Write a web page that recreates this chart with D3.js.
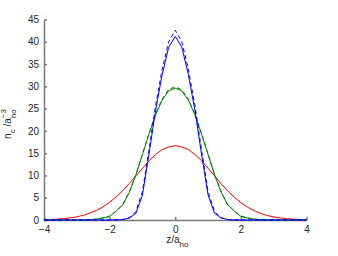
<!DOCTYPE html>
<html>
<head>
<meta charset="utf-8">
<script src="https://cdn.jsdelivr.net/npm/d3@7"></script>
<style>
  body { margin: 0; background: #fff; }
  text { font-family: "Liberation Sans", Arial, sans-serif; fill: #262626; }
</style>
</head>
<body>
<svg id="chart"></svg>
<script>
// z grid (z/a_ho)
const zValues = [-4.0,-3.8,-3.6,-3.4,-3.2,-3.0,-2.8,-2.6,-2.4,-2.2,-2.0,-1.8,-1.6,-1.4,-1.2,-1.0,-0.8,-0.6,-0.4,-0.2,
  0.0,0.2,0.4,0.6,0.8,1.0,1.2,1.4,1.6,1.8,2.0,2.2,2.4,2.6,2.8,3.0,3.2,3.4,3.6,3.8,4.0];

// density curves
const redSolid = [0.07,0.11,0.19,0.31,0.47,0.72,1.05,1.55,2.15,2.95,4.0,5.2,6.6,8.2,9.9,11.6,13.3,14.7,15.8,16.4,
  16.7,16.4,15.8,14.7,13.3,11.6,9.9,8.1,6.5,5.1,3.9,2.9,2.1,1.5,1.0,0.7,0.45,0.3,0.18,0.1,0.06];
const greenSolid = [0,0,0,0,0,0.01,0.03,0.08,0.2,0.45,0.8,2.0,3.4,6.2,10.1,14.7,19.3,23.6,26.9,29.0,
  29.6,29.0,26.9,23.6,19.3,14.7,10.1,6.2,3.4,2.0,0.8,0.45,0.2,0.08,0.03,0.01,0,0,0,0,0];
const greenDashed = [0,0,0,0,0,0.01,0.03,0.09,0.2,0.46,0.9,2.0,3.5,6.3,10.2,14.8,19.4,23.8,27.1,29.3,
  29.9,29.2,27.1,23.8,19.4,14.8,10.2,6.3,3.5,2.0,0.9,0.46,0.2,0.09,0.03,0.01,0,0,0,0,0];
const blueSolid = [0,0,0,0,0,0,0,0,0,0,0,0.02,0.1,0.45,1.5,5.6,14.8,24.6,32.6,38.8,
  41.2,38.8,32.6,24.6,14.8,5.6,1.5,0.45,0.1,0.02,0,0,0,0,0,0,0,0,0,0,0];
const blueDashed = [0,0,0,0,0,0,0,0,0,0,0,0.03,0.12,0.5,1.9,6.4,15.8,25.6,33.8,40.0,
  42.6,40.0,33.8,25.6,15.8,6.4,1.9,0.5,0.12,0.03,0,0,0,0,0,0,0,0,0,0,0];

const xTicks = [-4, -2, 0, 2, 4];
const yTicks = [0, 5, 10, 15, 20, 25, 30, 35, 40, 45];

class DensityChart {
  constructor(config) {
    this.config = {
      parent: config.parent,
      width: config.width || 338,
      height: config.height || 256,
      margin: config.margin || { top: 19.5, right: 31.5, bottom: 36, left: 44 }
    };
    this.init();
  }

  init() {
    let self = this;

    self.svg = d3.select(self.config.parent)
      .attr('width', self.config.width)
      .attr('height', self.config.height);

    self.chart = self.svg.append('g')
      .attr('transform', `translate(${self.config.margin.left}, ${self.config.margin.top})`);

    self.inner_width = self.config.width - self.config.margin.left - self.config.margin.right;
    self.inner_height = self.config.height - self.config.margin.top - self.config.margin.bottom;

    self.xscale = d3.scaleLinear().domain([-4, 4]).range([0, self.inner_width]);
    self.yscale = d3.scaleLinear().domain([0, 45]).range([self.inner_height, 0]);

    // matlab style: ticks point inward
    self.xaxis = d3.axisBottom(self.xscale).tickValues(xTicks).tickSize(-3).tickSizeOuter(0).tickPadding(6)
      .tickFormat(d => d < 0 ? '\u2212' + Math.abs(d) : d);
    self.yaxis = d3.axisLeft(self.yscale).tickValues(yTicks).tickSize(-3).tickSizeOuter(0).tickPadding(5);

    self.render();
  }

  render() {
    let self = this;

    const series = [
      { v: redSolid, color: '#ff0000', dash: null },
      { v: greenDashed, color: '#008000', dash: '4,3' },
      { v: greenSolid, color: '#008000', dash: null },
      { v: blueDashed, color: '#0000ff', dash: '4,3' },
      { v: blueSolid, color: '#0000ff', dash: null }
    ];

    self.line = d3.line()
      .x((d, i) => self.xscale(zValues[i]))
      .y(d => self.yscale(d));

    self.xaxis_group = self.chart.append('g')
      .attr('transform', `translate(0, ${self.inner_height})`)
      .call(self.xaxis);
    self.yaxis_group = self.chart.append('g')
      .call(self.yaxis);

    self.chart.selectAll('.domain, .tick line')
      .attr('stroke', '#7a7a7a')
      .attr('stroke-width', 1.5);
    self.chart.selectAll('.tick text')
      .style('font-size', '10px')
      .attr('fill', '#262626');

    self.chart.selectAll('.curve')
      .data(series)
      .join('path')
      .attr('class', 'curve')
      .attr('d', d => self.line(d.v))
      .attr('fill', 'none')
      .attr('stroke', d => d.color)
      .attr('stroke-width', 1)
      .attr('stroke-dasharray', d => d.dash);

    // x label  z/a_ho
    const xl = self.svg.append('text')
      .attr('x', self.config.margin.left + self.xscale(0) + 2)
      .attr('y', 243)
      .attr('text-anchor', 'middle')
      .style('font-size', '10px');
    xl.append('tspan').text('z/a');
    xl.append('tspan').attr('dy', 4).style('font-size', '8px').text('ho');

    // y label  n_c /a_ho^-3
    const yl = self.svg.append('text')
      .attr('transform', `translate(11, 124) rotate(-90)`)
      .attr('text-anchor', 'middle')
      .style('font-size', '10px');
    yl.append('tspan').text('n');
    yl.append('tspan').attr('dy', 4).style('font-size', '8px').text('c');
    yl.append('tspan').attr('dy', -4).text(' /a');
    yl.append('tspan').attr('dy', -5).style('font-size', '8px').text('\u22123');
    yl.append('tspan').attr('dx', -9).attr('dy', 10).style('font-size', '8px').text('ho');
  }
}

let chart = new DensityChart({ parent: '#chart', width: 338, height: 256 });
</script>
</body>
</html>
